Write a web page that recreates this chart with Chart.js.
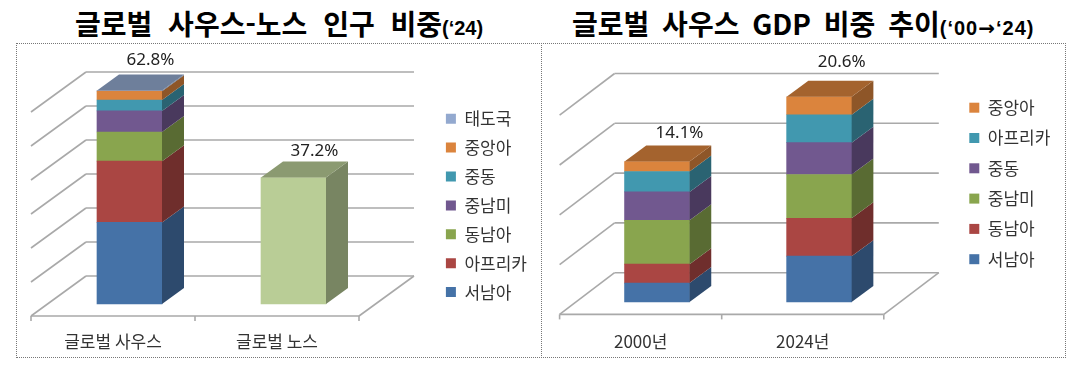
<!DOCTYPE html>
<html lang="ko">
<head>
<meta charset="utf-8">
<script src="https://cdn.jsdelivr.net/npm/chart.js@4/dist/chart.umd.min.js"></script>
<style>
  body { margin: 0; background: #fff; width: 1079px; height: 365px; position: relative; overflow: hidden; }
  .title { position: absolute; top: 3px; white-space: nowrap; color: #000; font: bold 28px "Noto Sans CJK KR", sans-serif; line-height: 40px; }
  .title small { font: bold 20px "Liberation Sans", sans-serif; word-spacing: 0; }
  .title small i { font: bold 20px "DejaVu Sans", sans-serif; }
  .frame { position: absolute; top: 43px; height: 315px; box-sizing: border-box; border: 1px dotted #777; }
  .frame canvas { position: absolute; left: 0; top: 0; }
  #frame_pop { left: 16px; width: 526px; }
  #frame_gdp { left: 541px; width: 525px; }
</style>
</head>
<body>
<div class="title" style="left:75px;word-spacing:8px">글로벌 사우스-노스 인구 비중<small>(‘24)</small></div>
<div class="title" style="left:572px;word-spacing:5px">글로벌 사우스 GDP 비중 추이<small style="letter-spacing:1px">(‘00<i>→</i>‘24)</small></div>
<div class="frame" id="frame_pop"><canvas id="pop_chart" width="524" height="313"></canvas></div>
<div class="frame" id="frame_gdp"><canvas id="gdp_chart" width="523" height="313"></canvas></div>
<script>
// population chart
const pop_categories = ['글로벌 사우스', '글로벌 노스']
const pop_series_names = ['서남아', '아프리카', '동남아', '중남미', '중동', '중앙아', '태도국']
const pop_south_values = [24.0, 18.0, 8.6, 6.2, 3.2, 2.6, 0.2]
const pop_north_value = 37.2
const pop_totals = ['62.8%', '37.2%']

// gdp chart
const gdp_categories = ['2000년', '2024년']
const gdp_series_names = ['서남아', '동남아', '중남미', '중동', '아프리카', '중앙아']
const gdp_2000_values = [1.9, 1.9, 4.4, 2.85, 2.05, 1.0]
const gdp_2024_values = [4.6, 3.8, 4.4, 3.2, 2.8, 1.8]
const gdp_totals = ['14.1%', '20.6%']

const colors = {
    '서남아': '#4572a7', '아프리카': '#aa4643', '동남아': '#89a54e', '중남미': '#71588f',
    '중동': '#4198af', '중앙아': '#db843d', '태도국': '#93a9cf', '글로벌 노스': '#b9cd96'
}
const gdp_colors = ['#4572a7', '#aa4643', '#89a54e', '#71588f', '#4198af', '#db843d']
const FONT = '"Noto Sans", "Noto Sans CJK KR", sans-serif'

function shade(hex, f){
    const n = parseInt(hex.slice(1), 16)
    return `rgb(${(n >> 16) * f},${((n >> 8) & 255) * f},${(n & 255) * f})`
}

function face(ctx, pts, color){
    ctx.fillStyle = color
    ctx.beginPath()
    pts.forEach((p, i) => i ? ctx.lineTo(p[0], p[1]) : ctx.moveTo(p[0], p[1]))
    ctx.closePath()
    ctx.fill()
}

// draws the walls behind the bars and the depth of the bars, everything hangs on the chart scales
const box3d = {
    id: 'box3d',
    afterLayout(chart, args, o){
        // the legend sits away from the plot, the draw clips to these edges
        const legend = chart.legend
        legend.left = o.legendLeft
        legend.right = chart.width
        legend.top = o.legendTop
        legend.bottom = chart.height
    },
    beforeDatasetsDraw(chart, args, o){
        const {ctx, chartArea: a, scales: {x, y}} = chart
        ctx.save()
        ctx.strokeStyle = '#a9a9a9'
        ctx.lineWidth = 1.6
        const line = (x0, y0, x1, y1) => { ctx.beginPath(); ctx.moveTo(x0, y0); ctx.lineTo(x1, y1); ctx.stroke() }
        for(const tick of y.ticks){
            const py = y.getPixelForValue(tick.value)
            line(a.left + o.backX, py - o.backY, a.right + o.backX, py - o.backY)
            line(a.left + o.backX, py - o.backY, a.left - o.frontX, py + o.frontY)
        }
        const floor = y.getPixelForValue(0)
        line(a.left - o.frontX, floor + o.frontY, a.right - o.frontX, floor + o.frontY)
        line(a.right - o.frontX, floor + o.frontY, a.right + o.backX, floor - o.backY)
        const step = (a.right - a.left) / x.ticks.length
        for(let i = 0; i <= x.ticks.length; i++){
            const tx = a.left - o.frontX + step * i
            line(tx, floor + o.frontY, tx, floor + o.frontY + 5)
        }
        ctx.restore()
    },
    afterDatasetsDraw(chart, args, o){
        const {ctx} = chart
        const tops = {}
        chart.data.datasets.forEach((ds, i) => {
            chart.getDatasetMeta(i).data.forEach((bar, j) => {
                if(ds.data[j] === null) return
                const right = bar.x + bar.width / 2
                face(ctx, [[right, bar.base], [right + o.sideX, bar.base - o.sideY], [right + o.sideX, bar.y - o.sideY], [right, bar.y]], shade(ds.backgroundColor, 0.65))
                tops[j] = {bar, color: ds.backgroundColor}
            })
        })
        Object.keys(tops).forEach(j => {
            const {bar, color} = tops[j]
            const l = bar.x - bar.width / 2
            const r = bar.x + bar.width / 2
            face(ctx, [[l, bar.y], [r, bar.y], [r + o.sideX, bar.y - o.sideY], [l + o.sideX, bar.y - o.sideY]], shade(color, 0.75))
            ctx.fillStyle = '#222'
            ctx.font = `17px ${FONT}`
            ctx.textAlign = 'center'
            ctx.textBaseline = 'middle'
            ctx.fillText(o.totals[j], bar.x + o.labelX, bar.y - o.labelY[j])
        })
    }
}

function makeChart(id, categories, datasets, cfg){
    return new Chart(document.getElementById(id).getContext('2d'), {
        type: 'bar',
        data: {
            labels: categories,
            datasets: datasets.map(d => ({...d, clip: false, borderWidth: 0, barThickness: cfg.barThickness}))
        },
        options: {
            responsive: false,
            animation: false,
            layout: {autoPadding: false, padding: cfg.padding},
            scales: {
                x: {
                    stacked: true,
                    border: {display: false},
                    grid: {display: false, drawTicks: false},
                    afterFit(scale){ scale.height = 50 },
                    ticks: {padding: cfg.tickPadding, labelOffset: -cfg.box.frontX, color: '#333', font: {family: '"Noto Sans CJK KR", sans-serif', size: 17}, maxRotation: 0}
                },
                y: {
                    display: false,
                    stacked: true,
                    min: 0,
                    max: cfg.yMax,
                    ticks: {stepSize: cfg.yStep}
                }
            },
            plugins: {
                tooltip: {enabled: false},
                box3d: cfg.box,
                legend: {
                    position: 'right',
                    align: 'start',
                    maxWidth: 10,
                    reverse: true,
                    labels: {
                        boxWidth: 10,
                        boxHeight: 10,
                        padding: cfg.legendPadding,
                        color: '#333',
                        font: {family: '"Noto Sans CJK KR", sans-serif', size: 17},
                        filter: item => item.text !== '글로벌 노스'
                    }
                }
            }
        },
        plugins: [box3d]
    })
}

const pop_datasets = pop_series_names.map((name, i) => ({
    label: name,
    backgroundColor: colors[name],
    data: [pop_south_values[i], null]
}))
pop_datasets.push({label: '글로벌 노스', backgroundColor: colors['글로벌 노스'], data: [null, pop_north_value]})

makeChart('pop_chart', pop_categories, pop_datasets, {
    padding: {left: 30.5, right: 155.5, top: 56, bottom: 3},
    tickPadding: 27,
    barThickness: 65,
    yMax: 60,
    yStep: 10,
    legendPadding: 11.9,
    box: {
        backX: 38.5, backY: 28, frontX: 16.5, frontY: 12,
        sideX: 22, sideY: 16,
        totals: pop_totals, labelX: 21, labelY: [30.7, 26.3],
        legendLeft: 417, legendTop: 54.3
    }
})

const gdp_datasets = gdp_series_names.map((name, i) => ({
    label: name,
    backgroundColor: gdp_colors[i],
    data: [gdp_2000_values[i], gdp_2024_values[i]]
}))

makeChart('gdp_chart', gdp_categories, gdp_datasets, {
    padding: {left: 34, right: 154.8, top: 58.8, bottom: 5},
    tickPadding: 29,
    barThickness: 65,
    yMax: 20,
    yStep: 5,
    legendPadding: 13.3,
    box: {
        backX: 38.6, backY: 29.3, frontX: 16.4, frontY: 12.4,
        sideX: 21.7, sideY: 16,
        totals: gdp_totals, labelX: 22.5, labelY: [28.3, 35],
        legendLeft: 414, legendTop: 41.9
    }
})
</script>
</body>
</html>
